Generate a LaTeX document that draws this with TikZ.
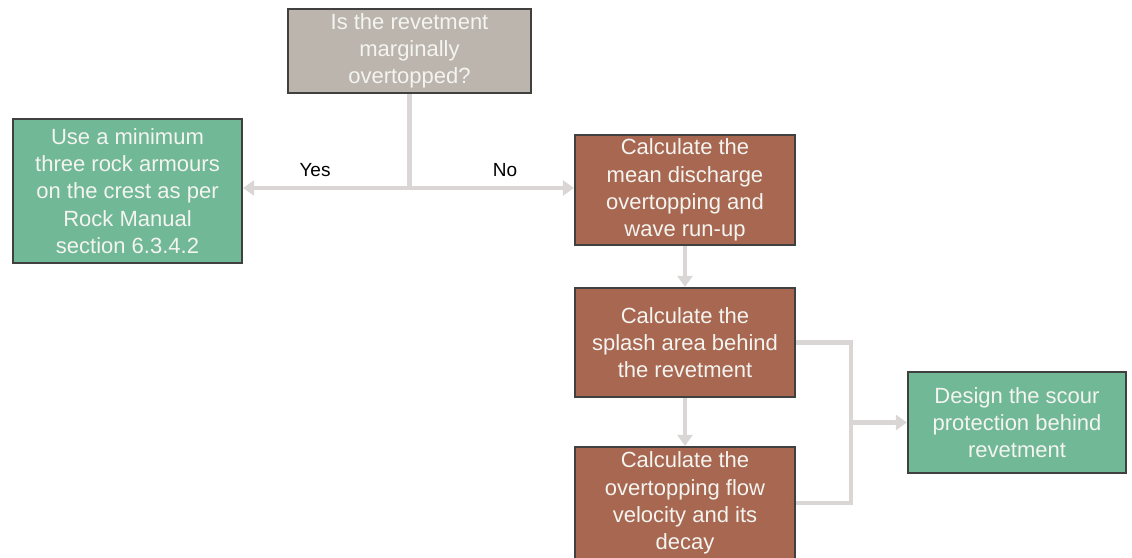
\documentclass[tikz,border=0pt]{standalone}
\usepackage{fontspec}
\setmainfont{Liberation Sans}
\usetikzlibrary{arrows.meta}
\definecolor{greybox}{RGB}{188,181,174}
\definecolor{greenbox}{RGB}{112,184,150}
\definecolor{brownbox}{RGB}{168,103,80}
\definecolor{edgecol}{RGB}{64,64,64}
\definecolor{linkcol}{RGB}{218,214,214}
\definecolor{txtcol}{RGB}{244,244,240}
\tikzset{
  box/.style={draw=edgecol, line width=2.2pt, text=txtcol, align=center,
    font=\fontsize{22}{27.3}\selectfont, inner sep=0pt, anchor=center, outer sep=1.1pt},
  link/.style={draw=linkcol, line width=4.5pt},
  tip/.style={-{Triangle[width=15pt,length=11pt]}},
  lbl/.style={font=\fontsize{19}{22}\selectfont, text=black}
}
\begin{document}
\begin{tikzpicture}[x=1pt,y=-1pt]
\useasboundingbox (0,0) rectangle (1132,557);
\node[box, fill=greybox, minimum width=243pt, minimum height=84pt] (q) at (409.5,51) {Is the revetment\\marginally\\overtopped?};
\node[box, fill=greenbox, minimum width=229pt, minimum height=144pt] (yes) at (127.5,191) {Use a minimum\\three rock armours\\on the crest as per\\Rock Manual\\section 6.3.4.2};
\node[box, fill=brownbox, minimum width=220pt, minimum height=110pt] (c1) at (685,190) {Calculate the\\mean discharge\\overtopping and\\wave run-up};
\node[box, fill=brownbox, minimum width=220pt, minimum height=109pt] (c2) at (685,342.5) {Calculate the\\splash area behind\\the revetment};
\node[box, fill=brownbox, minimum width=220pt, minimum height=112pt] (c3) at (685,503) {Calculate the\\overtopping flow\\velocity and its\\decay};
\node[box, fill=greenbox, minimum width=218pt, minimum height=101pt] (d) at (1017,422.5) {Design the scour\\protection behind\\revetment};
\coordinate (j) at (q.south |- 0,188);
\coordinate (m) at (851,422.5);
\draw[link] (q.south) -- (j);
\draw[link, tip] (j) -- (yes.east |- j);
\draw[link, tip] (j) -- (c1.west |- j);
\node[lbl] (ly) at (315,170) {Yes};
\node[lbl] (ln) at (505,170) {No};
\draw[link, tip] (c1.south) -- (c2.north);
\draw[link, tip] (c2.south) -- (c3.north);
\draw[link] (c2.east) -| (m) |- (c3.east);
\draw[link, tip] (m) -- (d.west);
\end{tikzpicture}
\end{document}
